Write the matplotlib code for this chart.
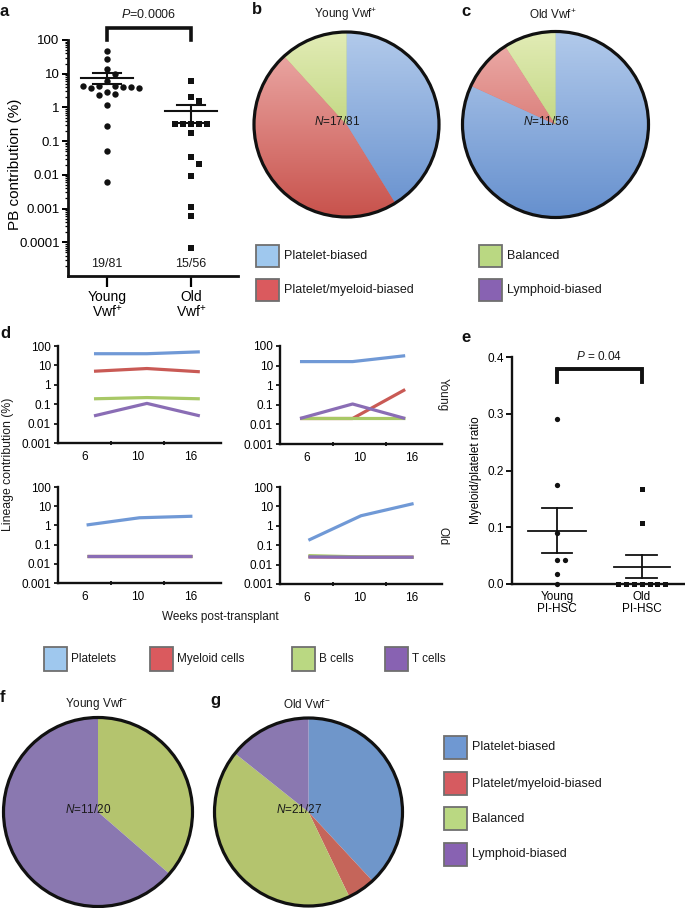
'''
Multi-panel figure: PB contribution, lineage pies and lineage time courses
'''
import numpy as np
import matplotlib
matplotlib.use('Agg')
import matplotlib.pyplot as plt
from matplotlib.patches import Rectangle, Circle
from matplotlib.colors  import LinearSegmentedColormap
from matplotlib.ticker  import FixedLocator, NullLocator, LogLocator, NullFormatter

plt.rcParams['font.family']      = ['Liberation Sans', 'DejaVu Sans']
plt.rcParams['font.size']        = 8.5
plt.rcParams['text.color']       = '#1a1a1a'
plt.rcParams['mathtext.fontset'] = 'custom'
plt.rcParams['mathtext.rm']      = 'Liberation Sans'
plt.rcParams['mathtext.it']      = 'Liberation Sans:italic'

W, H = 685, 908

# ---------------------------- data
# a) PB contribution (%)
young_pb = [48, 28, 14, 10, 6.0, 4.4, 4.2, 4.0, 3.8, 4.0, 4.2, 3.9, 2.8, 2.5, 2.3, 1.2, 0.29, 0.05, 0.006]
old_pb   = [6.2, 2.0, 1.5, 0.33, 0.32, 0.32, 0.33, 0.32, 0.18, 0.035, 0.021, 0.0093, 0.0011, 0.0006, 0.00007]
total_a  = [81, 56]
p_a      = '0.0006'

# b, c, f, g) pies
bias_labels      = ['Platelet-biased', 'Platelet/myeloid-biased', 'Balanced', 'Lymphoid-biased']
young_pos_counts = [7, 8, 2, 0]
old_pos_counts   = [9, 1, 1, 0]
young_neg_counts = [0, 0, 4, 7]
old_neg_counts   = [8, 1, 9, 3]
pie_totals       = [81, 56, 20, 27]

# d) lineage contribution (%) per week
weeks         = ['6', '10', '16']
lineage_names = ['Platelets', 'Myeloid cells', 'B cells', 'T cells']
d_young1 = [[40, 40, 50], [5.0, 6.9, 4.7], [0.19, 0.22, 0.19], [0.025, 0.11, 0.025]]
d_young2 = [[16, 16, 32], [0.02, 0.02, 0.6], [0.02, 0.02, 0.02], [0.02, 0.11, 0.02]]
d_old1   = [[1.05, 2.5, 3.0], [0.026, 0.026, 0.026], [0.026, 0.026, 0.026], [0.026, 0.026, 0.026]]
d_old2   = [[0.18, 3.3, 14], [0.025, 0.024, 0.024], [0.029, 0.025, 0.024], [0.025, 0.024, 0.024]]

# e) myeloid/platelet ratio
young_ratio = [0.29, 0.175, 0.089, 0.043, 0.043, 0.018, 0.0]
old_ratio   = [0.168, 0.107, 0.0, 0.0, 0.0, 0.0, 0.0, 0.0, 0.0]
p_e         = '0.04'

# ---------------------------- styles
pie_top    = ['#b2caeb', '#eeb0ad', '#e2ecb6', '#b9a6d6']
pie_bot    = ['#6690ce', '#c8524c', '#a6c455', '#7f60a8']
pie_flat   = ['#6f96ca', '#c5655a', '#b4c46e', '#8a78b0']
leg_light  = ['#9fc8ee', '#da5a5e', '#bad882', '#8862b2']
leg_dark   = ['#6f98d2', '#d65b60', '#bad882', '#8862b2']
line_cols  = ['#7099d6', '#c95a55', '#a8c866', '#8a6db5']
ink        = '#111111'

fig = plt.figure(figsize=(W / 100, H / 100), dpi=100)
# ----------------------------
def px_axes(x0, y0, x1, y1):
    return fig.add_axes([x0 / W, 1 - y1 / H, (x1 - x0) / W, (y1 - y0) / H])
# ----------------------------
def swarm(ax, x0, vals, step):
    disp   = ax.transData.transform(np.column_stack([np.full(len(vals), x0), vals]))
    placed = []
    for px, py in disp:
        k = 0
        while True:
            n    = (k + 1) // 2
            cand = px + n * step * (1 if k % 2 == 1 else -1)
            if all((cand - qx) ** 2 + (py - qy) ** 2 >= 0.9 * step ** 2 for qx, qy in placed):
                break
            k += 1
        placed.append((cand, py))
    back = ax.transData.inverted().transform(np.array(placed))
    return back[:, 0]
# ----------------------------
def mean_sem(ax, x0, vals, half, cap, lw=1.5):
    vals = np.asarray(vals, dtype=float)
    mu   = vals.mean()
    sem  = vals.std(ddof=1) / np.sqrt(len(vals))
    ax.plot([x0 - half, x0 + half], [mu, mu], color=ink, lw=lw, zorder=4)
    ax.plot([x0, x0], [mu - sem, mu + sem], color=ink, lw=lw, zorder=4)
    for yy in (mu - sem, mu + sem):
        ax.plot([x0 - cap, x0 + cap], [yy, yy], color=ink, lw=lw, zorder=4)
# ----------------------------
def style_spines(ax, lw=1.8):
    for side in ('top', 'right'):
        ax.spines[side].set_visible(False)
    for side in ('left', 'bottom'):
        ax.spines[side].set_linewidth(lw)
        ax.spines[side].set_color(ink)
    ax.set_facecolor('none')
# ----------------------------
def pie_panel(box_center, radius, counts, total, gradient):
    cx, cy = box_center
    m  = 1.04 * radius
    ax = px_axes(cx - m, cy - m, cx + m, cy + m)
    colors = pie_flat if not gradient else pie_bot
    wedges, _ = ax.pie(counts, colors=colors, startangle=90, counterclock=False,
                       wedgeprops=dict(linewidth=0))
    if gradient:
        grad = np.linspace(0, 1, 256).reshape(-1, 1)
        for wdg, top, bot in zip(wedges, pie_top, pie_bot):
            cmap = LinearSegmentedColormap.from_list('g', [bot, top])
            img  = ax.imshow(grad, cmap=cmap, extent=(-1, 1, -1, 1), origin='lower',
                             aspect='auto', zorder=2)
            img.set_clip_path(wdg)
    ax.add_patch(Circle((0, 0), 1, fill=False, lw=2.3, ec=ink, zorder=5))
    ax.text(-0.1, 0.03, f'$N$={sum(counts)}/{total}', ha='center', va='center',
            fontsize=8.5, zorder=6)
    ax.set_xlim(-1.04, 1.04)
    ax.set_ylim(-1.04, 1.04)
    ax.set_aspect('equal')
    ax.axis('off')
    return ax
# ----------------------------
def lineage_panel(box, series, shift):
    ax = px_axes(*box)
    x  = np.arange(len(weeks)) + shift
    for vals, col in zip(series, line_cols):
        ax.plot(x, vals, color=col, lw=2.3, solid_capstyle='butt', clip_on=False)
    ax.set_yscale('log')
    ax.set_ylim(1e-3, 100)
    ax.set_xlim(-0.51, 2.57)
    ax.yaxis.set_major_locator(FixedLocator([1e-3, 1e-2, 1e-1, 1, 10, 100]))
    ax.set_yticklabels(['0.001', '0.01', '0.1', '1', '10', '100'])
    ax.yaxis.set_minor_locator(NullLocator())
    ax.set_xticks(range(len(weeks)))
    ax.set_xticklabels(weeks)
    ax.set_xticks([0.5, 1.5], minor=True)
    ax.tick_params(axis='x', which='major', length=0, pad=6, labelsize=8.5)
    ax.tick_params(axis='x', which='minor', length=3, width=1.2, direction='inout')
    ax.tick_params(axis='y', which='major', length=3, width=1.2, pad=2, labelsize=8.5)
    style_spines(ax, lw=1.7)
    return ax

# ---------------------------- a
ax = px_axes(68, 40, 238, 276)
ax.set_yscale('log')
ax.set_ylim(1e-5, 100)
ax.set_xlim(0.536, 2.56)
style_spines(ax, lw=2.0)
xs_y = swarm(ax, 1, young_pb, 8)
xs_o = swarm(ax, 2, old_pb, 8)
ax.plot(xs_y, young_pb, 'o', ms=4.6, color=ink, mew=0, zorder=3)
ax.plot(xs_o, old_pb, 's', ms=4.4, color=ink, mew=0, zorder=3)
mean_sem(ax, 1, young_pb, 0.315, 0.167)
mean_sem(ax, 2, old_pb, 0.305, 0.17)
ax.yaxis.set_major_locator(FixedLocator([1e-4, 1e-3, 1e-2, 1e-1, 1, 10, 100]))
ax.set_yticklabels(['0.0001', '0.001', '0.01', '0.1', '1', '10', '100'])
ax.yaxis.set_minor_locator(LogLocator(base=10, subs=np.arange(2, 10)))
ax.yaxis.set_minor_formatter(NullFormatter())
ax.tick_params(axis='y', which='major', length=4, width=1.4, pad=2, labelsize=9.5)
ax.tick_params(axis='y', which='minor', length=2.5, width=0.9)
ax.set_xticks([1, 2])
ax.set_xticklabels(['Young\nVwf$^{+}$', 'Old\nVwf$^{+}$'], linespacing=0.95)
ax.tick_params(axis='x', length=8, width=1.6, pad=2, labelsize=10)
ax.set_ylabel('PB contribution (%)', fontsize=11)
ax.yaxis.set_label_coords(-0.27, 0.475)
trans = ax.get_xaxis_transform()
ax.plot([1, 1, 2, 2], [1.0, 1.05, 1.05, 1.0], transform=trans, color=ink, lw=2.6,
        clip_on=False, solid_joinstyle='miter')
ax.text(1.5, 1.106, f'$P$={p_a}', transform=trans, ha='center', va='center', fontsize=9)
for xi, n, tot in zip([1, 2], [len(young_pb), len(old_pb)], total_a):
    ax.text(xi, 0.05, f'{n}/{tot}', transform=trans, ha='center', va='center', fontsize=9)

# ---------------------------- b, c
pie_panel((346.5, 124.5), 92.5, young_pos_counts, pie_totals[0], gradient=True)
pie_panel((555.5, 124.5), 93, old_pos_counts, pie_totals[1], gradient=True)

# ---------------------------- d
lineage_panel((58, 346, 221, 443), d_young1, 0.17)
lineage_panel((280, 346, 442, 444), d_young2, -0.13)
lineage_panel((58, 487, 221, 583), d_old1, 0.03)
lineage_panel((280, 487, 442, 584), d_old2, 0.03)

# ---------------------------- e
ax = px_axes(512, 357, 685, 584)
ax.set_ylim(0, 0.4)
ax.set_xlim(0.47, 2.51)
style_spines(ax, lw=1.7)
xs_y = swarm(ax, 1, young_ratio, 8)
xs_o = swarm(ax, 2, old_ratio, 7.8)
ax.plot(xs_y, young_ratio, 'o', ms=3.8, color=ink, mew=0, zorder=3, clip_on=False)
ax.plot(xs_o, old_ratio, 's', ms=3.6, color=ink, mew=0, zorder=3, clip_on=False)
mean_sem(ax, 1, young_ratio, 0.34, 0.18, lw=1.3)
mean_sem(ax, 2, old_ratio, 0.33, 0.18, lw=1.3)
ax.set_yticks([0, 0.1, 0.2, 0.3, 0.4])
ax.set_yticklabels(['0.0', '0.1', '0.2', '0.3', '0.4'])
ax.tick_params(axis='y', length=4, width=1.3, pad=2, labelsize=8.5)
ax.set_xticks([1, 2])
ax.set_xticklabels(['Young\nPI-HSC', 'Old\nPI-HSC'], linespacing=1.05)
ax.tick_params(axis='x', length=0, pad=5, labelsize=8.5)
ax.set_ylabel('Myeloid/platelet ratio', fontsize=8.5)
ax.yaxis.set_label_coords(-0.175, 0.5)
trans = ax.get_xaxis_transform()
ax.plot([1, 1, 2, 2], [0.89, 0.947, 0.947, 0.89], transform=trans, color=ink, lw=2.8,
        clip_on=False, solid_joinstyle='miter')
ax.text(1.5, 1.0, f'$P$ = {p_e}', transform=trans, ha='center', va='center', fontsize=8.5)

# ---------------------------- f, g
pie_panel((98, 812), 94.5, young_neg_counts, pie_totals[2], gradient=False)
pie_panel((308.5, 812), 94, old_neg_counts, pie_totals[3], gradient=False)

# ---------------------------- overlay: labels, titles and legends
ov = fig.add_axes([0, 0, 1, 1])
ov.set_xlim(0, W)
ov.set_ylim(H, 0)
ov.axis('off')

for lab, (lx, ly) in zip('abcdefg', [(4, 11), (257, 10), (466, 11), (5, 334),
                                     (466, 337), (3, 698), (215, 701)]):
    ov.text(lx, ly, lab, fontsize=12, fontweight='bold', ha='center', va='center', color=ink)

for txt, (tx, ty) in zip(['Young Vwf$^{+}$', 'Old Vwf$^{+}$', 'Young Vwf$^{-}$', 'Old Vwf$^{-}$'],
                         [(346, 15), (553, 15), (97, 704), (307, 704)]):
    ov.text(tx, ty, txt, ha='center', va='center', fontsize=8.5)

ov.text(443, 395, 'Young', rotation=270, ha='center', va='center', fontsize=8.5)
ov.text(443, 536, 'Old', rotation=270, ha='center', va='center', fontsize=8.5)
ov.text(8, 464, 'Lineage contribution (%)', rotation=90, ha='center', va='center', fontsize=8.8)
ov.text(220, 617, 'Weeks post-transplant', ha='center', va='center', fontsize=8.5)

def legend_item(x, y, w, h, color, label, gap=5, size=9):
    ov.add_patch(Rectangle((x, y), w, h, fc=color, ec='#6f6f6f', lw=1.3))
    ov.text(x + w + gap, y + h / 2, label, ha='left', va='center', fontsize=size)

# b/c legend
for (bx, by), col, lab in zip([(256, 245), (256, 279), (479, 245), (479, 279)], leg_light, bias_labels):
    legend_item(bx, by, 23, 22, col, lab)
# d legend
for bx, col, lab in zip([44, 150, 292, 385], leg_light, lineage_names):
    legend_item(bx, 647, 23, 24, col, lab, gap=4, size=8.5)
# g legend
for by, col, lab in zip([736, 772, 807, 843], leg_dark, bias_labels):
    legend_item(444, by, 23, 23, col, lab)

fig.savefig('out.png', dpi=100)
